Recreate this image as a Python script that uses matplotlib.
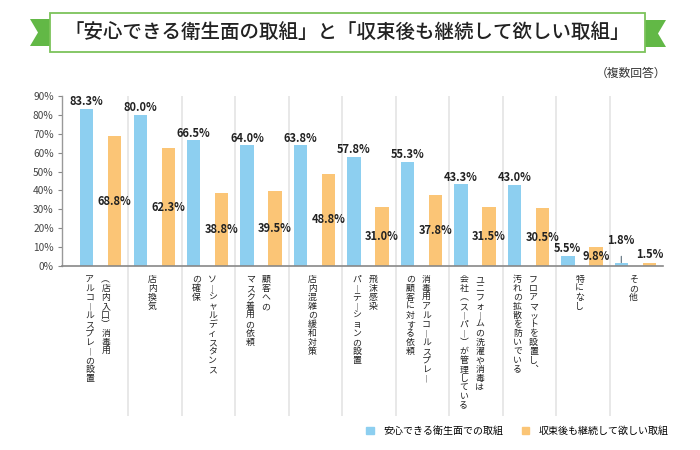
import matplotlib
matplotlib.use("Agg")
import matplotlib.pyplot as plt
from matplotlib.patches import Polygon, Rectangle, Patch

plt.rcParams["font.family"] = ["Noto Sans CJK JP", "DejaVu Sans"]

TITLE = "「安心できる衛生面の取組」と「収束後も継続して欲しい取組」"
NOTE = "（複数回答）"
SERIES = ["安心できる衛生面での取組", "収束後も継続して欲しい取組"]
CATEGORIES = [
    "(店内入口)消毒用\nアルコールスプレーの設置",
    "店内換気",
    "ソーシャルディスタンス\nの確保",
    "顧客への\nマスク着用の依頼",
    "店内混雑の緩和対策",
    "飛沫感染\nパーテーションの設置",
    "消毒用アルコールスプレー\nの顧客に対する依頼",
    "ユニフォームの洗濯や消毒は\n会社(スーパー)が管理している",
    "フロアマットを設置し、\n汚れの拡散を防いでいる",
    "特になし",
    "その他",
]
SAFE = [83.3, 80.0, 66.5, 64.0, 63.8, 57.8, 55.3, 43.3, 43.0, 5.5, 1.8]
KEEP = [68.8, 62.3, 38.8, 39.5, 48.8, 31.0, 37.8, 31.5, 30.5, 9.8, 1.5]
Y_TICKS = [0, 10, 20, 30, 40, 50, 60, 70, 80, 90]

BLUE = "#8dcff0"
ORANGE = "#fbc576"
GREEN = "#62b846"
PT = 0.72  # points per pixel at dpi 100

# vertical-writing forms for the category labels
VERT = {"ー": "︱", "(": "︵", ")": "︶", "、": "︑"}


def vertical_label(ax, x, text):
    lines = text.split("\n")
    for j, line in enumerate(lines):
        dx = -3 if len(lines) == 1 else 4 - 16 * j
        for k, ch in enumerate(line):
            ax.annotate(VERT.get(ch, ch), xy=(x, 0), xycoords=("data", "axes fraction"),
                        xytext=(dx * PT, -(9 + 9 * k) * PT), textcoords="offset points",
                        ha="center", va="top", fontsize=6.4, color="#222222",
                        annotation_clip=False)


fig = plt.figure(figsize=(7, 4.5), dpi=100)
fig.patch.set_facecolor("white")

# banner
deco = fig.add_axes([0, 0, 1, 1])
deco.set_xlim(0, 700)
deco.set_ylim(450, 0)
deco.axis("off")
deco.add_patch(Polygon([(30, 19), (60, 19), (60, 46), (30, 46), (38, 32.5)],
                       closed=True, color=GREEN, lw=0))
deco.add_patch(Polygon([(640, 20), (666, 20), (658, 33.5), (666, 47), (640, 47)],
                       closed=True, color=GREEN, lw=0))
deco.add_patch(Rectangle((50, 12.5), 595, 39.5, facecolor="white",
                         edgecolor="#7cc35a", lw=1.3))
deco.text(347.5, 32.5, TITLE, ha="center", va="center", fontsize=14,
          weight="medium", color="#222222")
deco.text(666, 73, NOTE, ha="right", va="center", fontsize=8.5, color="#333333")

ax = fig.add_axes([62 / 700, 184 / 450, 601 / 700, 170 / 450])
x = list(range(len(CATEGORIES)))
xb = [i + 0.22 for i in x]
xo = [i + 0.745 for i in x]
ax.bar(xb, SAFE, width=0.25, color=BLUE, zorder=2)
ax.bar(xo, KEEP, width=0.25, color=ORANGE, zorder=2)

ax.set_xlim(-0.243, 11)
ax.set_ylim(0, 90)
ax.vlines(range(1, 11), -0.88, 1, transform=ax.get_xaxis_transform(),
          colors="#e4e4e4", lw=1.2, clip_on=False, zorder=0)

lab = dict(fontsize=8, weight="bold", color="#222222", ha="center", va="center",
           annotation_clip=False)
for xi, v in zip(xb, SAFE):
    if v < 3:
        ax.annotate(f"{v:.1f}%", xy=(xi, v), xytext=(0, 22.5 * PT), textcoords="offset points",
                    arrowprops=dict(arrowstyle="-", color="#5a6d7a", lw=0.8,
                                    shrinkA=5, shrinkB=0), **lab)
    else:
        ax.annotate(f"{v:.1f}%", xy=(xi, v), xytext=(0, 7 * PT), textcoords="offset points", **lab)
for xi, v in zip(xo, KEEP):
    if v < 3:
        ax.annotate(f"{v:.1f}%", xy=(xi, v), xytext=(0, 9 * PT), textcoords="offset points", **lab)
    else:
        ax.annotate(f"{v:.1f}%", xy=(xi, v / 2), xytext=(0, 0), textcoords="offset points", **lab)

for i, c in enumerate(CATEGORIES):
    vertical_label(ax, i + 0.5, c)

ax.set_xticks([])
ax.set_yticks(Y_TICKS)
ax.set_yticklabels([f"{v}%" for v in Y_TICKS])
ax.tick_params(axis="y", direction="out", length=3, width=0.8, color="#888888",
               labelsize=7.3, labelcolor="#444444", pad=3)
for s in ["top", "right"]:
    ax.spines[s].set_visible(False)
ax.spines["left"].set_color("#999999")
ax.spines["left"].set_linewidth(1.0)
ax.spines["bottom"].set_color("#888888")
ax.spines["bottom"].set_linewidth(1.2)

fig.legend(handles=[Patch(color=BLUE, label=SERIES[0]), Patch(color=ORANGE, label=SERIES[1])],
           loc="center left", bbox_to_anchor=(366 / 700, 1 - 431 / 450), ncol=2,
           frameon=False, fontsize=7.2, handlelength=0.75, handleheight=0.75,
           handletextpad=1.0, columnspacing=1.8, borderpad=0, borderaxespad=0)

fig.savefig("out.png", dpi=100, facecolor="white")
